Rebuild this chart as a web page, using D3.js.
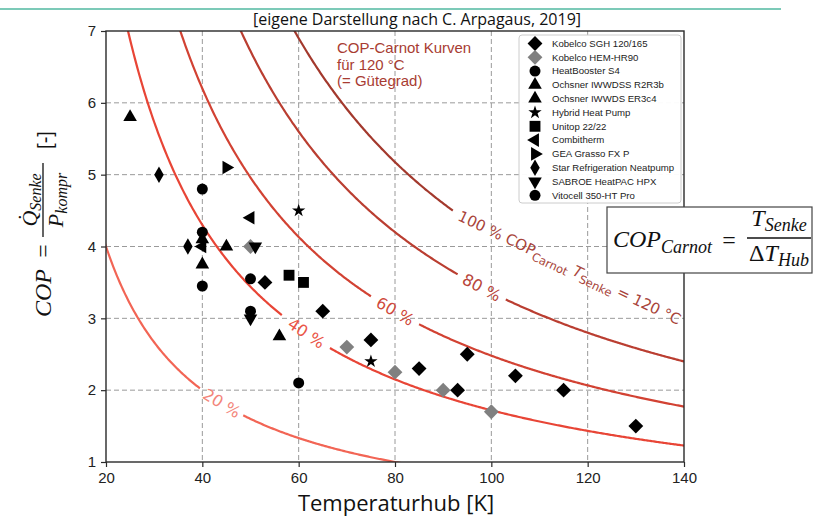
<!DOCTYPE html>
<html>
<head>
<meta charset="utf-8">
<script src="https://cdn.jsdelivr.net/npm/d3@7"></script>
<style>
  body { margin: 0; background: #fff; }
  svg { display: block; }
</style>
</head>
<body>
<div id="chart"></div>
<script>
// Axis ticks
const xTicks = [20, 40, 60, 80, 100, 120, 140];
const yTicks = [1, 2, 3, 4, 5, 6, 7];

// Carnot curves: Guetegrad and eta*T_Senke product [K]
const guetegrad = [20, 40, 60, 80, 100];
const etaT = [80, 172, 248, 336, 414];

// Heat pump data points [Temperaturhub K, COP]
const kobelcoSGH   = [[53, 3.5], [65, 3.1], [75, 2.7], [85, 2.3], [93, 2.0], [95, 2.5], [105, 2.2], [115, 2.0], [130, 1.5]];
const kobelcoHEM   = [[50, 4.0], [70, 2.6], [80, 2.25], [90, 2.0], [100, 1.7]];
const heatBooster  = [[40, 4.8], [40, 4.2], [50, 3.55], [60, 2.1]];
const ochsnerR2R3b = [[25, 5.8], [40, 3.75], [45, 4.0]];
const ochsnerER3c4 = [[40, 4.1], [56, 2.75]];
const hybridHP     = [[60, 4.5], [75, 2.4]];
const unitop       = [[58, 3.6], [61, 3.5]];
const combitherm   = [[40, 4.0], [50, 4.4]];
const geaGrasso    = [[45, 5.1]];
const starRefrig   = [[31, 5.0], [37, 4.0]];
const sabroe       = [[51, 4.0], [50, 3.0]];
const vitocell     = [[40, 3.45], [50, 3.1]];

const seriesNames = ["Kobelco SGH 120/165", "Kobelco HEM-HR90", "HeatBooster S4", "Ochsner IWWDSS R2R3b",
  "Ochsner IWWDS ER3c4", "Hybrid Heat Pump", "Unitop 22/22", "Combitherm", "GEA Grasso FX P",
  "Star Refrigeration Neatpump", "SABROE HeatPAC HPX", "Vitocell 350-HT Pro"];
const seriesData = [kobelcoSGH, kobelcoHEM, heatBooster, ochsnerR2R3b, ochsnerER3c4, hybridHP,
  unitop, combitherm, geaGrasso, starRefrig, sabroe, vitocell];
const seriesMarker = ["D", "D", "o", "^", "^", "*", "s", "<", ">", "d", "v", "o"];
const seriesColor = ["#000", "#808080", "#000", "#000", "#000", "#000", "#000", "#000", "#000", "#000", "#000", "#000"];

const width = 818, height = 516;
const plot = { left: 106, right: 684, top: 31, bottom: 462 };

const svg = d3.select("#chart").append("svg")
  .attr("width", width)
  .attr("height", height);

const x = d3.scaleLinear().domain([20, 140]).range([plot.left, plot.right]);
const y = d3.scaleLinear().domain([1, 7]).range([plot.bottom, plot.top]);

// teal line + source note
svg.append("line")
  .attr("x1", 0).attr("x2", 781).attr("y1", 9).attr("y2", 9)
  .attr("stroke", "#7ccab8").attr("stroke-width", 2);
svg.append("text")
  .attr("x", 417).attr("y", 25)
  .attr("text-anchor", "middle")
  .attr("font-family", "Open Sans, sans-serif")
  .attr("font-size", 16)
  .attr("fill", "#111")
  .text("[eigene Darstellung nach C. Arpagaus, 2019]");

// grid
const grid = svg.append("g").attr("stroke", "#9a9a9a").attr("stroke-dasharray", "5,3").attr("stroke-width", 1);
grid.selectAll(".gx").data(xTicks.slice(1, -1)).join("line")
  .attr("x1", d => x(d)).attr("x2", d => x(d))
  .attr("y1", plot.top).attr("y2", plot.bottom);
grid.selectAll(".gy").data(yTicks.slice(1, -1)).join("line")
  .attr("x1", plot.left).attr("x2", plot.right)
  .attr("y1", d => y(d)).attr("y2", d => y(d));

// clip for curves
svg.append("clipPath").attr("id", "clip")
  .append("rect")
  .attr("x", plot.left).attr("y", plot.top)
  .attr("width", plot.right - plot.left).attr("height", plot.bottom - plot.top);

const curveColor = ["#f26555", "#e84536", "#d24233", "#ba3e31", "#a3392d"];
const labelColor = ["#f3857a", "#ea5547", "#cf4a3c", "#b8453a", "#a8443a"];
// gaps in curves where the inline labels sit (Temperaturhub range)
const labelGap = [[39.6, 48.5], [56.7, 66.5], [75.2, 84.9], [93.2, 102.8], [92.1, 150]];

const hub = d3.range(15, 150.01, 0.25);
const curveLine = d3.line().x(d => x(d[0])).y(d => y(d[1]));

const curves = svg.append("g").attr("clip-path", "url(#clip)");
guetegrad.forEach((g, i) => {
  const pts = hub.map(t => [t, etaT[i] / t]);
  const gap = labelGap[i];
  curves.append("path")
    .attr("d", curveLine.defined(d => !(d[0] > gap[0] && d[0] < gap[1]))(pts))
    .attr("fill", "none")
    .attr("stroke", curveColor[i])
    .attr("stroke-width", 2.2);
});

// inline labels for 20..80 %
guetegrad.slice(0, 4).forEach((g, i) => {
  const t = (labelGap[i][0] + labelGap[i][1]) / 2;
  const px = x(t), py = y(etaT[i] / t);
  const slope = (y(etaT[i] / (t + 0.5)) - y(etaT[i] / (t - 0.5))) / (x(t + 0.5) - x(t - 0.5));
  const ang = Math.atan(slope) * 180 / Math.PI;
  svg.append("text")
    .attr("transform", `translate(${px},${py}) rotate(${ang})`)
    .attr("text-anchor", "middle")
    .attr("dy", "0.35em")
    .attr("font-family", "DejaVu Sans, sans-serif")
    .attr("font-size", 16)
    .attr("fill", labelColor[i])
    .text(g + " %");
});

// 100 % label along the chord of the curve
{
  const i = 4;
  const t0 = 93.3, t1 = 139;
  const p0 = [x(t0), y(etaT[i] / t0)], p1 = [x(t1), y(etaT[i] / t1)];
  const ang = Math.atan2(p1[1] - p0[1], p1[0] - p0[0]) * 180 / Math.PI;
  const lab = svg.append("text")
    .attr("transform", `translate(${p0[0]},${p0[1]}) rotate(${ang})`)
    .attr("dy", "0.35em")
    .attr("font-family", "DejaVu Sans, sans-serif")
    .attr("font-size", 15)
    .attr("fill", labelColor[i]);
  lab.append("tspan").text("100 % COP");
  lab.append("tspan").attr("dy", 4).attr("font-size", 11.5).text("Carnot");
  lab.append("tspan").attr("dy", -4).text(" ");
  lab.append("tspan").attr("font-style", "italic").text("T");
  lab.append("tspan").attr("dy", 4).attr("font-size", 11.5).text("Senke");
  lab.append("tspan").attr("dy", -4).text(" = 120 °C");
}

// note
const note = svg.append("text")
  .attr("font-family", "Liberation Sans, Arial, sans-serif")
  .attr("font-size", 15)
  .attr("fill", "#a83c32");
["COP-Carnot Kurven", "für 120 °C", "(= Gütegrad)"].forEach((s, k) => {
  note.append("tspan").attr("x", 337).attr("y", 53 + k * 16.5).text(s);
});

// frame
svg.append("rect")
  .attr("x", plot.left).attr("y", plot.top)
  .attr("width", plot.right - plot.left).attr("height", plot.bottom - plot.top)
  .attr("fill", "none").attr("stroke", "#2a2a2a").attr("stroke-width", 1.4);

// axes
const xAxis = svg.append("g")
  .attr("transform", `translate(0,${plot.bottom})`)
  .call(d3.axisBottom(x).tickValues(xTicks).tickFormat(d3.format("d")).tickSize(5).tickPadding(5));
const yAxis = svg.append("g")
  .attr("transform", `translate(${plot.left},0)`)
  .call(d3.axisLeft(y).tickValues(yTicks).tickFormat(d3.format("d")).tickSize(5).tickPadding(5));
[xAxis, yAxis].forEach(a => {
  a.select(".domain").remove();
  a.selectAll(".tick line").attr("stroke", "#2a2a2a").attr("stroke-width", 1.2);
  a.selectAll(".tick text")
    .attr("font-family", "Liberation Sans, Arial, sans-serif")
    .attr("font-size", 15)
    .attr("fill", "#222");
});

// markers
const markerShape = {
  "D": [d3.symbolSquare, 110, 45],
  "o": [d3.symbolCircle, 95, 0],
  "^": [d3.symbolTriangle, 80, 0],
  "v": [d3.symbolTriangle, 80, 180],
  "<": [d3.symbolTriangle, 80, -90],
  ">": [d3.symbolTriangle, 80, 90],
  "*": [d3.symbolStar, 55, 0],
  "s": [d3.symbolSquare, 118, 0],
  "d": [d3.symbolDiamond, 78, 0]
};
function marker(sel, m) {
  const [type, size] = markerShape[m];
  return sel.attr("d", d3.symbol().type(type).size(size)());
}

const pts = svg.append("g");
seriesData.forEach((data, i) => {
  const m = seriesMarker[i];
  const rot = markerShape[m][2];
  pts.selectAll(null).data(data).join("path")
    .call(marker, m)
    .attr("transform", d => `translate(${x(d[0])},${y(d[1])}) rotate(${rot})`)
    .attr("fill", seriesColor[i]);
});

// legend
const legend = svg.append("g");
legend.append("rect")
  .attr("x", 519).attr("y", 35).attr("width", 162).attr("height", 168)
  .attr("rx", 3)
  .attr("fill", "#fff").attr("fill-opacity", 0.95)
  .attr("stroke", "#cccccc");
seriesNames.forEach((name, i) => {
  const ly = 43.5 + i * 13.8;
  const m = seriesMarker[i];
  legend.append("path")
    .call(marker, m)
    .attr("transform", `translate(535,${ly}) rotate(${markerShape[m][2]})`)
    .attr("fill", seriesColor[i]);
  legend.append("text")
    .attr("x", 552).attr("y", ly).attr("dy", "0.35em")
    .attr("font-family", "Liberation Sans, Arial, sans-serif")
    .attr("font-size", 9.6)
    .attr("fill", "#222")
    .text(name);
});

// formula box
svg.append("rect")
  .attr("x", 607).attr("y", 207).attr("width", 205).attr("height", 66)
  .attr("fill", "#fff").attr("stroke", "#444").attr("stroke-width", 1.2);
const mathFont = "Liberation Serif, DejaVu Serif, serif";
const f1 = svg.append("text")
  .attr("x", 613).attr("y", 247)
  .attr("font-family", mathFont).attr("font-style", "italic")
  .attr("font-size", 24).attr("fill", "#111");
f1.append("tspan").text("COP");
f1.append("tspan").attr("dy", 6).attr("font-size", 18).text("Carnot");
svg.append("text")
  .attr("x", 729).attr("y", 248).attr("text-anchor", "middle")
  .attr("font-family", mathFont).attr("font-size", 24).attr("fill", "#111")
  .text("=");
const num = svg.append("text")
  .attr("x", 779).attr("y", 226).attr("text-anchor", "middle")
  .attr("font-family", mathFont).attr("font-style", "italic")
  .attr("font-size", 24).attr("fill", "#111");
num.append("tspan").text("T");
num.append("tspan").attr("dy", 5).attr("font-size", 18).text("Senke");
svg.append("line")
  .attr("x1", 747).attr("x2", 811).attr("y1", 238).attr("y2", 238)
  .attr("stroke", "#111").attr("stroke-width", 1.3);
const den = svg.append("text")
  .attr("x", 779).attr("y", 261).attr("text-anchor", "middle")
  .attr("font-family", mathFont).attr("font-size", 24).attr("fill", "#111");
den.append("tspan").text("Δ");
den.append("tspan").attr("font-style", "italic").text("T");
den.append("tspan").attr("dy", 5).attr("font-style", "italic").attr("font-size", 18).text("Hub");

// y-axis label (rotated formula)
const yl = svg.append("g").attr("transform", "translate(43,245) rotate(-90)");
yl.append("text")
  .attr("x", -48).attr("y", 8).attr("text-anchor", "middle")
  .attr("font-family", mathFont).attr("font-style", "italic")
  .attr("font-size", 24).attr("fill", "#111")
  .text("COP");
yl.append("text")
  .attr("x", -6).attr("y", 8).attr("text-anchor", "middle")
  .attr("font-family", mathFont).attr("font-size", 24).attr("fill", "#111")
  .text("=");
const yn = yl.append("text")
  .attr("x", 45).attr("y", -6).attr("text-anchor", "middle")
  .attr("font-family", mathFont).attr("font-style", "italic")
  .attr("font-size", 22).attr("fill", "#111");
yn.append("tspan").text("Q\u0307");
yn.append("tspan").attr("dy", 4).attr("font-size", 16).text("Senke");
yl.append("line")
  .attr("x1", 8).attr("x2", 82).attr("y1", 0).attr("y2", 0)
  .attr("stroke", "#111").attr("stroke-width", 1.3);
const yd = yl.append("text")
  .attr("x", 45).attr("y", 20).attr("text-anchor", "middle")
  .attr("font-family", mathFont).attr("font-style", "italic")
  .attr("font-size", 22).attr("fill", "#111");
yd.append("tspan").text("P");
yd.append("tspan").attr("dy", 4).attr("font-size", 16).text("kompr");
yl.append("text")
  .attr("x", 105).attr("y", 9).attr("text-anchor", "middle")
  .attr("font-family", "Liberation Sans, Arial, sans-serif")
  .attr("font-size", 20).attr("fill", "#111")
  .text("[-]");

// x-axis label
svg.append("text")
  .attr("x", 396).attr("y", 511).attr("text-anchor", "middle")
  .attr("font-family", "Open Sans, sans-serif")
  .attr("font-size", 22).attr("fill", "#111")
  .text("Temperaturhub [K]");
</script>
</body>
</html>
